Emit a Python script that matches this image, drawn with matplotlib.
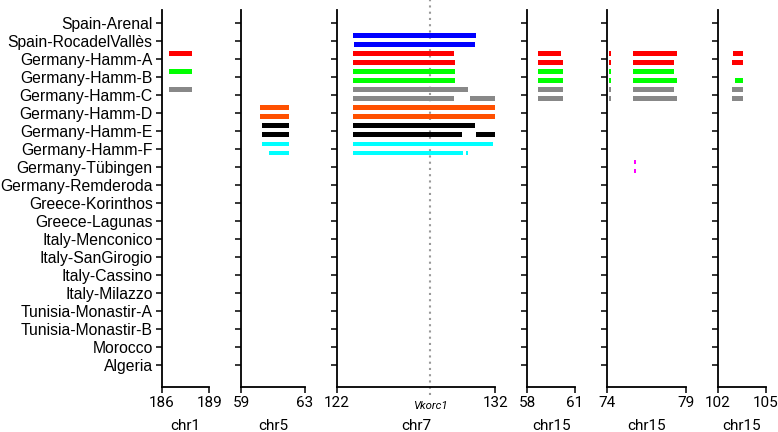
import matplotlib.pyplot as plt

populations = ["Spain-Arenal", "Spain-RocadelVallès", "Germany-Hamm-A", "Germany-Hamm-B",
               "Germany-Hamm-C", "Germany-Hamm-D", "Germany-Hamm-E", "Germany-Hamm-F",
               "Germany-Tübingen", "Germany-Remderoda", "Greece-Korinthos", "Greece-Lagunas",
               "Italy-Menconico", "Italy-SanGirogio", "Italy-Cassino", "Italy-Milazzo",
               "Tunisia-Monastir-A", "Tunisia-Monastir-B", "Morocco", "Algeria"]

panel_names = ["chr1", "chr5", "chr7", "chr15", "chr15", "chr15"]
panel_limits = [(186, 189), (59, 63), (122, 132), (58, 61), (74, 79), (102, 105)]

pop_colors = {"Spain-RocadelVallès": "#0000FF", "Germany-Hamm-A": "#FF0000",
              "Germany-Hamm-B": "#00FF00", "Germany-Hamm-C": "#888888",
              "Germany-Hamm-D": "#FF5000", "Germany-Hamm-E": "#000000",
              "Germany-Hamm-F": "#00FFFF", "Germany-Tübingen": "#FF00FF"}

# segments: population, haplotype (0 upper / 1 lower), panel, start, end (Mb)
seg_pop = []
seg_hap = []
seg_panel = []
seg_start = []
seg_end = []

def add(pop, hap, panel, start, end):
    seg_pop.append(pop)
    seg_hap.append(hap)
    seg_panel.append(panel)
    seg_start.append(start)
    seg_end.append(end)

# chr1
add("Germany-Hamm-A", 0, 0, 186.46, 187.93)
add("Germany-Hamm-B", 0, 0, 186.46, 187.93)
add("Germany-Hamm-C", 0, 0, 186.46, 187.93)
# chr5
add("Germany-Hamm-D", 0, 1, 60.16, 61.99)
add("Germany-Hamm-D", 1, 1, 60.16, 61.99)
add("Germany-Hamm-E", 0, 1, 60.28, 61.99)
add("Germany-Hamm-E", 1, 1, 60.28, 61.99)
add("Germany-Hamm-F", 0, 1, 60.28, 61.99)
add("Germany-Hamm-F", 1, 1, 60.74, 61.99)
# chr7
add("Spain-RocadelVallès", 0, 2, 123.05, 130.80)
add("Spain-RocadelVallès", 1, 2, 123.11, 130.73)
add("Germany-Hamm-A", 0, 2, 123.01, 129.42)
add("Germany-Hamm-A", 1, 2, 123.01, 129.44)
add("Germany-Hamm-B", 0, 2, 123.01, 129.43)
add("Germany-Hamm-B", 1, 2, 123.01, 129.43)
add("Germany-Hamm-C", 0, 2, 123.01, 130.27)
add("Germany-Hamm-C", 1, 2, 123.01, 129.42)
add("Germany-Hamm-C", 1, 2, 130.37, 132.0)
add("Germany-Hamm-D", 0, 2, 123.01, 132.0)
add("Germany-Hamm-D", 1, 2, 123.01, 132.0)
add("Germany-Hamm-E", 0, 2, 123.01, 130.71)
add("Germany-Hamm-E", 1, 2, 123.01, 129.89)
add("Germany-Hamm-E", 1, 2, 130.80, 132.0)
add("Germany-Hamm-F", 0, 2, 123.01, 131.83)
add("Germany-Hamm-F", 1, 2, 123.01, 129.95)
add("Germany-Hamm-F", 1, 2, 130.12, 130.29)
# chr15 (58-61)
add("Germany-Hamm-A", 0, 3, 58.66, 60.14)
add("Germany-Hamm-A", 1, 3, 58.66, 60.25)
add("Germany-Hamm-B", 0, 3, 58.66, 60.25)
add("Germany-Hamm-B", 1, 3, 58.66, 60.25)
add("Germany-Hamm-C", 0, 3, 58.66, 60.25)
add("Germany-Hamm-C", 1, 3, 58.66, 60.25)
# chr15 (74-79)
for pop in ["Germany-Hamm-A", "Germany-Hamm-B", "Germany-Hamm-C"]:
    add(pop, 0, 4, 74.17, 74.24)
    add(pop, 1, 4, 74.17, 74.24)
add("Germany-Hamm-A", 0, 4, 75.67, 78.39)
add("Germany-Hamm-A", 1, 4, 75.67, 78.25)
add("Germany-Hamm-B", 0, 4, 75.67, 78.25)
add("Germany-Hamm-B", 1, 4, 75.67, 78.39)
add("Germany-Hamm-C", 0, 4, 75.67, 78.25)
add("Germany-Hamm-C", 1, 4, 75.67, 78.39)
add("Germany-Tübingen", 0, 4, 75.70, 75.82)
add("Germany-Tübingen", 1, 4, 75.70, 75.82)
# chr15 (102-105)
add("Germany-Hamm-A", 0, 5, 102.96, 103.57)
add("Germany-Hamm-A", 1, 5, 102.87, 103.57)
add("Germany-Hamm-B", 1, 5, 103.06, 103.57)
add("Germany-Hamm-C", 0, 5, 102.87, 103.57)
add("Germany-Hamm-C", 1, 5, 102.87, 103.57)

vkorc1_pos = 127.9

widths = [hi - lo for lo, hi in panel_limits]
fig, axes = plt.subplots(1, 6, figsize=(7.78, 4.32), dpi=100,
                         gridspec_kw={"width_ratios": widths})
fig.subplots_adjust(left=0.2078, right=0.9842, top=0.977, bottom=0.104, wspace=0.43)

hap_offset = [-0.28, 0.22]
ypos = range(len(populations))

for i, ax in enumerate(axes):
    for p, h, k, s, e in zip(seg_pop, seg_hap, seg_panel, seg_start, seg_end):
        if k != i:
            continue
        y = populations.index(p) + hap_offset[h]
        ax.barh(y, e - s, left=s, height=0.27, color=pop_colors[p], linewidth=0)
    lo, hi = panel_limits[i]
    ax.set_xlim(lo, hi)
    ax.set_ylim(20.22, -0.72)
    ax.set_xticks([lo, hi])
    ax.set_xticklabels([str(lo), str(hi)], fontsize=11, family="Roboto")
    ax.set_yticks(list(ypos))
    if i == 0:
        ax.set_yticklabels(populations, fontsize=11.3, family="Liberation Sans")
    else:
        ax.set_yticklabels([])
    ax.set_xlabel(panel_names[i], fontsize=11, family="Roboto", labelpad=6.5)
    for side in ["top", "right"]:
        ax.spines[side].set_visible(False)
    for side in ["left", "bottom"]:
        ax.spines[side].set_linewidth(1.3)
    ax.tick_params(axis="both", length=4, width=1.1, pad=2.5)

ax7 = axes[2]
ax7.axvline(vkorc1_pos, color="#999999", linestyle=(0, (1, 2)), linewidth=1.5,
            ymin=-0.02, ymax=1.027, clip_on=False, zorder=0)
ax7.text(vkorc1_pos, -0.037, "Vkorc1", transform=ax7.get_xaxis_transform(),
         ha="center", va="top", fontsize=8.2, style="italic", family="Roboto")

plt.savefig("out.png", dpi=100)
